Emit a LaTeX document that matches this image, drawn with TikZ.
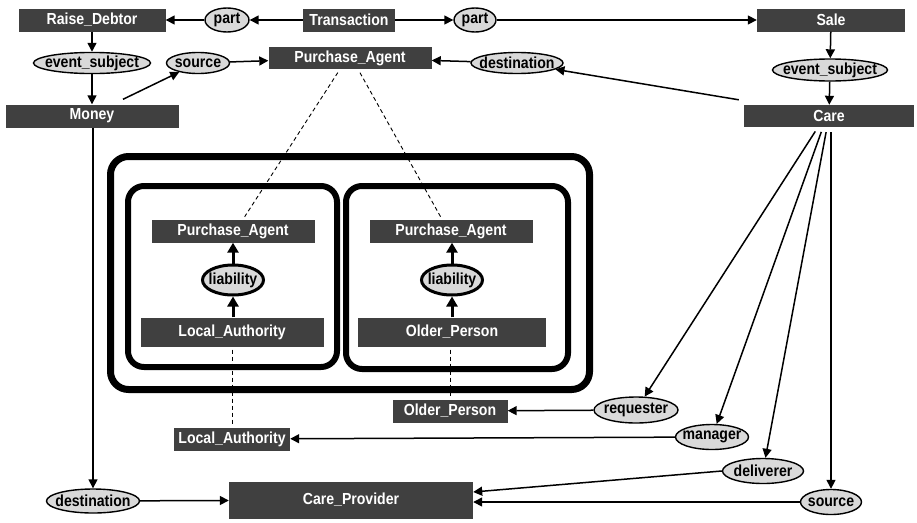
\documentclass[tikz,border=0pt]{standalone}
\usepackage{fontspec}
\setmainfont{Liberation Sans}[FakeStretch=0.88]
\usetikzlibrary{arrows.meta,shapes.geometric,calc}
\definecolor{boxgray}{HTML}{404040}
\definecolor{ovalgray}{HTML}{D9D9D9}
% label inside an oval: takes no width, so the oval keeps its given size
\newcommand\ovaltext[1]{\makebox[0pt]{#1}}
\begin{document}
\begin{tikzpicture}[x=1pt,y=-1pt,
  concept/.style={fill=boxgray, text=white, font=\bfseries\fontsize{16}{18}\selectfont,
    inner sep=0pt, minimum height=23pt},
  relation/.style={ellipse, draw, line width=1.4pt, fill=ovalgray,
    font=\bfseries\fontsize{16}{18}\selectfont, inner sep=0pt, minimum height=21pt},
  strongrel/.style={relation, line width=3pt, minimum width=61pt, minimum height=30pt},
  link/.style={line width=1.5pt, -{Triangle[length=9pt,width=9pt]}},
  heavylink/.style={line width=3pt, -{Triangle[length=10pt,width=11pt]}},
  coref/.style={line width=0.9pt, dash pattern=on 4pt off 3pt},
  context/.style={line width=7pt, rounded corners=18pt},
  subcontext/.style={line width=6pt, rounded corners=16pt}
]
\useasboundingbox (0,0) rectangle (917,522);

% nested contexts
\draw[context] (110.5,156.5) rectangle (589.5,389.5);
\draw[subcontext] (128,186) rectangle (337,367);
\draw[subcontext] (346,186) rectangle (568,369);

% concepts
\node[concept, minimum width=147pt] (rd) at (92,20) {Raise\_Debtor};
\node[concept, minimum width=92pt] (tr) at (349,20) {Transaction};
\node[concept, minimum width=148pt] (sale) at (831,20) {Sale};
\node[concept, minimum width=163pt, minimum height=22pt] (pa) at (350,58) {Purchase\_Agent};
\node[concept, minimum width=173pt] (money) at (92,116) {Money};
\node[concept, minimum width=170pt, minimum height=22pt] (care) at (829,116) {Care};
\node[concept, minimum width=163pt] (pal) at (233,231) {Purchase\_Agent};
\node[concept, minimum width=183pt, minimum height=29pt] (lai) at (232,332) {Local\_Authority};
\node[concept, minimum width=163pt] (par) at (451,231) {Purchase\_Agent};
\node[concept, minimum width=188pt, minimum height=29pt] (opi) at (452,332) {Older\_Person};
\node[concept, minimum width=115pt] (opb) at (450,411) {Older\_Person};
\node[concept, minimum width=116pt] (lab) at (232,439) {Local\_Authority};
\node[concept, minimum width=244pt, minimum height=37pt] (cp) at (351,500) {Care\_Provider};

% relations
\node[relation, minimum width=44pt, minimum height=24pt] (partl) at (227,20) {\ovaltext{part}};
\node[relation, minimum width=42pt, minimum height=24pt] (partr) at (475,20) {\ovaltext{part}};
\node[relation, minimum width=117pt, minimum height=21pt] (esl) at (92,63) {\ovaltext{event\_subject}};
\node[relation, minimum width=63pt, minimum height=21pt] (srct) at (198,63) {\ovaltext{source}};
\node[relation, minimum width=92pt, minimum height=21pt] (destt) at (517,63) {\ovaltext{destination}};
\node[relation, minimum width=115pt, minimum height=22pt] (esr) at (830,70) {\ovaltext{event\_subject}};
\node[strongrel] (liabl) at (233,280) {\ovaltext{liability}};
\node[strongrel] (liabr) at (452,280) {\ovaltext{liability}};
\node[relation, minimum width=84pt, minimum height=26pt] (req) at (636,410) {\ovaltext{requester}};
\node[relation, minimum width=73pt, minimum height=25pt] (man) at (712,437) {\ovaltext{manager}};
\node[relation, minimum width=81pt, minimum height=25pt] (del) at (763,471) {\ovaltext{deliverer}};
\node[relation, minimum width=61pt, minimum height=25pt] (srcb) at (831,502) {\ovaltext{source}};
\node[relation, minimum width=93pt, minimum height=24pt] (destb) at (93,501) {\ovaltext{destination}};

% top row
\draw[link] (tr) -- (partl);
\draw[link] (partl) -- (rd);
\draw[link] (tr) -- (partr);
\draw[link] (partr) -- (sale);

% left column
\draw[link] (rd) -- (esl);
\draw[link] (esl) -- (money);
\draw[link] ([shift={(31pt,5pt)}]money.north) -- (srct);
\draw[link] (srct) -- (pa);
\draw[link] (money.south -| destb.north) -- (destb.north);
\draw[link] (destb) -- (cp);

% right column
\draw[link] (sale) -- (esr);
\draw[link] (esr) -- (care);
\draw[link] ([shift={(-5pt,5pt)}]care.north west) -- (destt);
\draw[link] (destt) -- (pa);

% coreference lines
\draw[coref, shorten <=4pt, shorten >=3pt] ([xshift=-10pt]pa.south) -- ([xshift=10pt]pal.north);
\draw[coref, shorten <=4pt, shorten >=3pt] ([xshift=8pt]pa.south) -- ([xshift=-9pt]par.north);
\draw[coref, shorten <=3pt, shorten >=2pt] (lai.south) -- (lab.north);
\draw[coref, shorten <=3pt, shorten >=2pt] (opi.south -| opb.north) -- (opb.north);

% liabilities inside the contexts
\draw[heavylink] (lai.north -| liabl.south) -- (liabl.south);
\draw[heavylink] (liabl.north) -- (liabl.north |- pal.south);
\draw[heavylink] (opi.north -| liabr.south) -- (liabr.south);
\draw[heavylink] (liabr.north) -- (liabr.north |- par.south);

% roles of the care event
\draw[link, shorten <=5pt] ([xshift=-11pt]care.south) -- (req);
\draw[link, shorten <=5pt] ([xshift=-6pt]care.south) -- (man);
\draw[link, shorten <=5pt] ([xshift=-2pt]care.south) -- (del);
\draw[link, shorten <=5pt] (care.south -| srcb.north) -- (srcb.north);
\draw[link] (req) -- (opb);
\draw[link] (man) -- (lab);
\draw[link] (del.west) -- ([yshift=8pt]cp.east);
\draw[link] (srcb.west) -- (cp.east |- srcb.west);
\end{tikzpicture}
\end{document}
